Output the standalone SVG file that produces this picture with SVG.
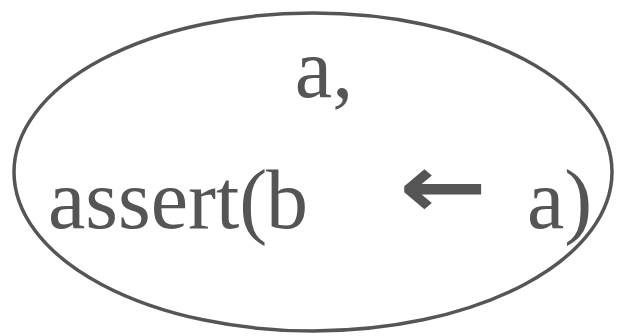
<svg xmlns="http://www.w3.org/2000/svg" width="618" height="336" viewBox="0 0 618 336">
<style>
.node ellipse{fill:#fff;stroke:#555;stroke-width:3.5}
.lbl{fill:#555}
</style>
<rect width="618" height="336" fill="#fff"/>
<g id="node1" class="node">
<ellipse cx="313" cy="172" rx="299" ry="159"/>
<text class="lbl" font-family="Liberation Serif" font-size="84" x="324" y="97" text-anchor="middle">a,</text>
<text class="lbl" font-family="Liberation Serif" font-size="84" y="228"><tspan x="48">assert(</tspan><tspan x="266">b</tspan><tspan x="527">a)</tspan></text>
<text class="lbl" font-family="DejaVu Sans" font-size="84" font-weight="bold" transform="translate(399 217) scale(1.25 1.05)">←</text>
</g>
<g id="connectors"></g>
</svg>
